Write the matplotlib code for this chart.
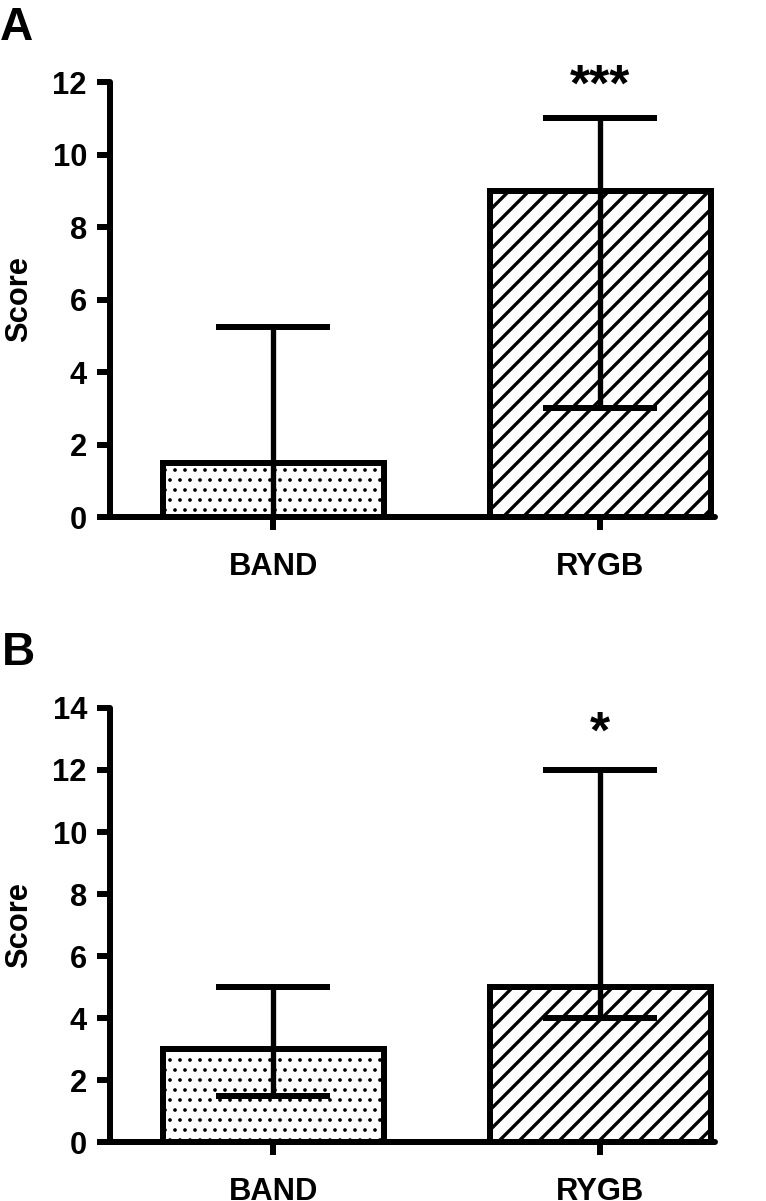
import numpy as np
import matplotlib
matplotlib.use('Agg')
import matplotlib.pyplot as plt

plt.rcParams['font.family'] = ['Liberation Sans', 'DejaVu Sans']
plt.rcParams['font.weight'] = 'bold'
plt.rcParams['hatch.linewidth'] = 2.0

##############################################################################
## data
groups = ['BAND', 'RYGB']
hatches = ['..', '//']

score_A = [1.5, 9.0]
upper_A = [5.25, 11.0]
lower_A = [0.0, 3.0]
stars_A = ['', '***']

score_B = [3.0, 5.0]
upper_B = [5.0, 12.0]
lower_B = [1.5, 4.0]
stars_B = ['', '*']

##############################################################################
def score_panel(ax, score, upper, lower, stars, ytop, star_y):
    x = np.arange(len(groups))
    bars = ax.bar(x, score, width=0.677, color='white', edgecolor='black',
                  linewidth=3.6, zorder=2)
    for b, h in zip(bars, hatches):
        b.set_hatch(h)
        if h == '..' and hasattr(b, 'set_hatch_linewidth'):
            b.set_hatch_linewidth(1.0)
    yerr = [np.subtract(score, lower), np.subtract(upper, score)]
    ax.errorbar(x, score, yerr=yerr, fmt='none', ecolor='black',
                elinewidth=3.2, capsize=34, capthick=3.6, zorder=3)
    for xi, s in zip(x, stars):
        if s:
            ax.text(xi, star_y, s, ha='center', va='baseline', fontsize=31,
                    fontweight='bold', clip_on=False)
    ax.set_xlim(-0.5, 1.35)
    ax.set_ylim(0, ytop)
    ax.set_yticks(np.arange(0, ytop + 1, 2))
    ax.set_xticks(x)
    ax.set_xticklabels(groups)
    ax.spines['top'].set_visible(False)
    ax.spines['right'].set_visible(False)
    for s in ['left', 'bottom']:
        ax.spines[s].set_linewidth(3.6)
        ax.spines[s].set_capstyle('round')
    ax.tick_params(axis='both', length=7.8, width=3.6, labelsize=18.5)
    ax.tick_params(axis='x', pad=13)
    ax.tick_params(axis='y', pad=6)
    ax.set_ylabel('Score', fontsize=18.5, fontweight='bold', labelpad=11)
    for lab in ax.get_xticklabels() + ax.get_yticklabels():
        lab.set_fontweight('bold')

fig = plt.figure(figsize=(766 / 120, 1201 / 120), dpi=120)
axA = fig.add_axes([0.1436, 0.5695, 0.7894, 0.3622])
axB = fig.add_axes([0.1436, 0.0491, 0.7894, 0.3614])

score_panel(axA, score_A, upper_A, lower_A, stars_A, 12, 11.5)
score_panel(axB, score_B, upper_B, lower_B, stars_B, 14, 12.72)

fig.text(0.0, 0.9667, 'A', fontsize=27.6, fontweight='bold', va='baseline')
fig.text(0.003, 0.4463, 'B', fontsize=27.6, fontweight='bold', va='baseline')

fig.savefig('out.png', dpi=120)
